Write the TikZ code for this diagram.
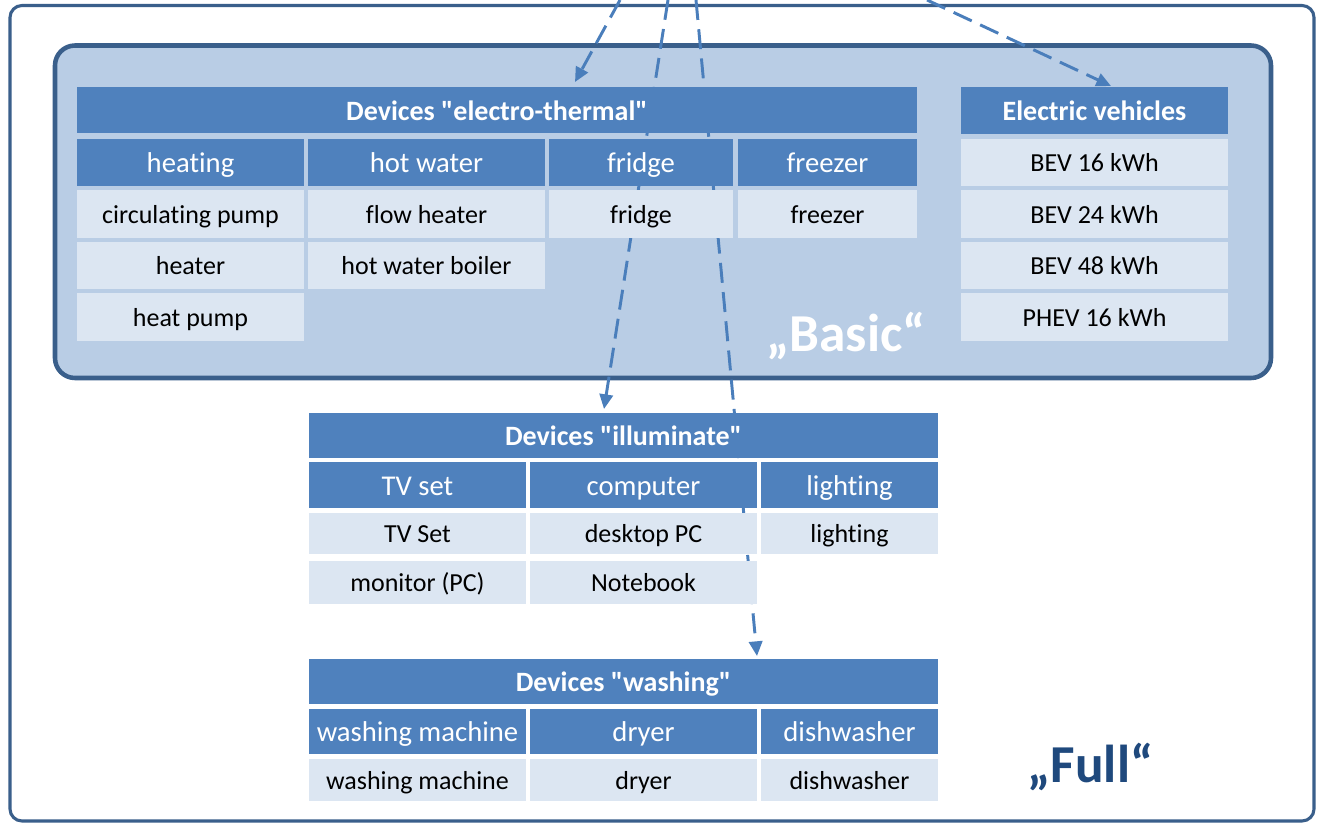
\documentclass[tikz,border=0pt]{standalone}
\usepackage{fontspec}
\setmainfont{Carlito}[Ligatures={TeXOff,NoCommon}]
\usetikzlibrary{arrows.meta,calc}

\definecolor{hdrblue}{HTML}{4F81BD}
\definecolor{cellblue}{HTML}{DCE6F2}
\definecolor{basicfill}{HTML}{B9CDE5}
\definecolor{frameblue}{HTML}{3A5F8B}
\definecolor{labelblue}{HTML}{1F497D}
\definecolor{linkblue}{HTML}{4A7EBB}

\pgfdeclarelayer{boxes}
\pgfdeclarelayer{links}
\pgfsetlayers{boxes,links,main}

% one table cell: name, style, x1, y1, x2, y2, text (coordinates in px)
\newcommand\devtablecell[7]{%
  \node[#2, minimum width={(#5-#3)*0.75pt}, minimum height={(#6-#4)*0.75pt}]
    (#1) at ({(#3+#5)/2},{(#4+#6)/2}) {#7};}

\tikzset{
  cellbase/.style={rectangle, inner sep=0pt, outer sep=0pt, draw=none},
  tablehead/.style={cellbase, fill=hdrblue, text=white, text height=19pt, text depth=4pt,
    font=\fontsize{21}{25}\selectfont\bfseries},
  cathead/.style={cellbase, fill=hdrblue, text=white, text height=19pt, text depth=4pt,
    font=\fontsize{21.5}{25}\selectfont},
  devcell/.style={cellbase, fill=cellblue, text=black, text height=18pt, text depth=4pt,
    font=\fontsize{19.5}{23}\selectfont},
  groupbox/.style={rectangle, inner sep=0pt, outer sep=0pt},
  grouplabel/.style={inner sep=0pt, anchor=base, font=\fontsize{40}{46}\selectfont\bfseries},
  link/.style={draw=linkblue, line width=2.2pt, dash pattern=on 15pt off 7pt,
    -{Triangle[length=11pt,width=10pt]}},
}

\begin{document}
\begin{tikzpicture}[x=0.75pt,y=-0.75pt]
\useasboundingbox (0,0) rectangle (1317,824);

% level frames
\begin{pgfonlayer}{boxes}
  \fill[white] (0,0) rectangle (1317,824);
  \node[groupbox, draw=frameblue, fill=white, line width=2.3pt, rounded corners=9pt,
        minimum width={(1314-10)*0.75pt}, minimum height={(821-5.5)*0.75pt}]
        (full) at ({(10+1314)/2},{(5.5+821)/2}) {};
  \node[groupbox, draw=frameblue, fill=basicfill, line width=3.4pt, rounded corners=15pt,
        minimum width={(1271-55)*0.75pt}, minimum height={(378-45.5)*0.75pt}]
        (basic) at ({(55+1271)/2},{(45.5+378)/2}) {};
\end{pgfonlayer}

% electro-thermal devices
\devtablecell{et-head}{tablehead}{77}{87}{917}{133}{Devices "electro-thermal"}
\devtablecell{et-heat}{cathead}{77}{139}{304}{186}{heating}
\devtablecell{et-hw}{cathead}{308}{139}{545}{186}{hot water}
\devtablecell{et-fr}{cathead}{549}{139}{733}{186}{fridge}
\devtablecell{et-fz}{cathead}{738}{139}{917}{186}{freezer}
\devtablecell{et-pump}{devcell}{77}{190}{304}{238}{circulating pump}
\devtablecell{et-flow}{devcell}{308}{190}{545}{238}{flow heater}
\devtablecell{et-fridge}{devcell}{549}{190}{733}{238}{fridge}
\devtablecell{et-freezer}{devcell}{738}{190}{917}{238}{freezer}
\devtablecell{et-heater}{devcell}{77}{242}{304}{289}{heater}
\devtablecell{et-boiler}{devcell}{308}{242}{545}{289}{hot water boiler}
\devtablecell{et-hpump}{devcell}{77}{293}{304}{341}{heat pump}

% electric vehicles
\devtablecell{ev-head}{tablehead}{961}{87}{1228}{134}{Electric vehicles}
\devtablecell{ev-b16}{devcell}{961}{139}{1228}{186}{BEV 16 kWh}
\devtablecell{ev-b24}{devcell}{961}{190}{1228}{238}{BEV 24 kWh}
\devtablecell{ev-b48}{devcell}{961}{242}{1228}{289}{BEV 48 kWh}
\devtablecell{ev-p16}{devcell}{961}{293}{1228}{341}{PHEV 16 kWh}

% illuminate devices
\devtablecell{il-head}{tablehead}{309}{413}{938}{458}{Devices "illuminate"}
\devtablecell{il-tv}{cathead}{309}{462}{526}{508}{TV set}
\devtablecell{il-comp}{cathead}{530}{462}{757}{508}{computer}
\devtablecell{il-light}{cathead}{761}{462}{938}{508}{lighting}
\devtablecell{il-tvset}{devcell}{309}{513}{526}{554}{TV Set}
\devtablecell{il-desk}{devcell}{530}{513}{757}{554}{desktop PC}
\devtablecell{il-lamp}{devcell}{761}{513}{938}{554}{lighting}
\devtablecell{il-mon}{devcell}{309}{561}{526}{604}{monitor (PC)}
\devtablecell{il-note}{devcell}{530}{561}{757}{604}{Notebook}

% washing devices
\devtablecell{wa-head}{tablehead}{309}{659}{938}{704}{Devices "washing"}
\devtablecell{wa-wm}{cathead}{309}{709}{526}{754}{washing machine}
\devtablecell{wa-dry}{cathead}{530}{709}{757}{754}{dryer}
\devtablecell{wa-dish}{cathead}{761}{709}{938}{754}{dishwasher}
\devtablecell{wa-wmach}{devcell}{309}{759}{526}{801}{washing machine}
\devtablecell{wa-dryer}{devcell}{530}{759}{757}{801}{dryer}
\devtablecell{wa-dwash}{devcell}{761}{759}{938}{801}{dishwasher}

% level labels
\node[grouplabel, text=white] (basic-label) at (846,351) {„Basic“};
\node[grouplabel, text=labelblue] (full-label) at (1090.5,782) {„Full“};

% links coming in from above
\coordinate (src1) at (620,0);
\coordinate (src2) at (668,0);
\coordinate (src3) at (696,0);
\coordinate (src4) at (927,0);
\begin{pgfonlayer}{links}
  \draw[link] (src1) -- ($(et-head.north west)+(498,-5)$);
  \draw[link] (src2) -- ($(il-head.north west)+(295,-4)$);
  \draw[link] (src3) -- ($(wa-head.north west)+(448,-3)$);
  \draw[link] (src4) -- ($(ev-head.north west)+(150,-1)$);
\end{pgfonlayer}
\end{tikzpicture}
\end{document}
